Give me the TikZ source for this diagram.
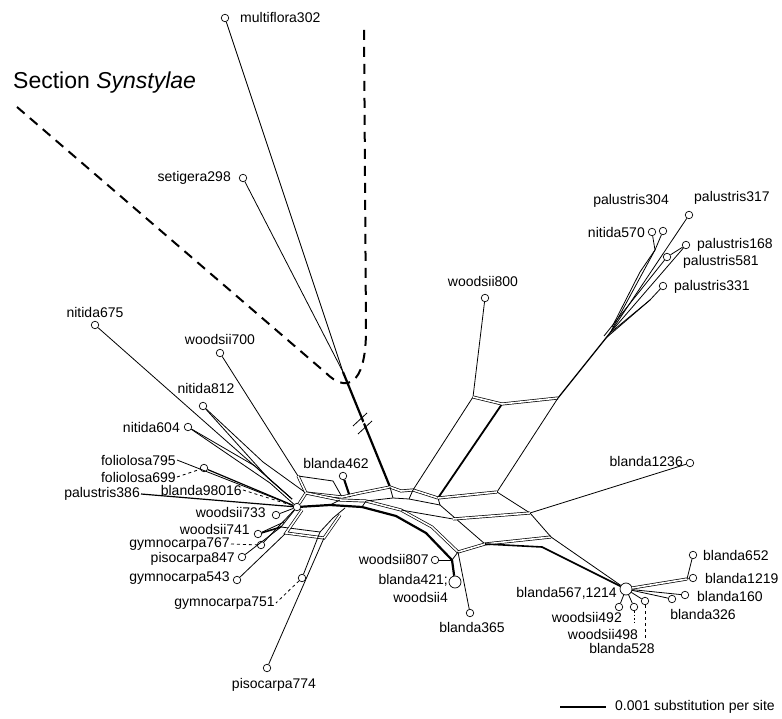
\documentclass[tikz,border=0pt]{standalone}
\usepackage{fontspec}
\setmainfont{Liberation Sans}
\begin{document}
\begin{tikzpicture}[x=1pt,y=-1pt,
    leaf/.style={circle, draw, fill=white, inner sep=0pt, minimum size=7.5pt, line width=0.7pt},
    bigleaf/.style={leaf, minimum size=12pt},
    lab/.style={font=\fontsize{14}{16}\selectfont, inner sep=1pt},
    edge/.style={line width=0.8pt},
    heavy/.style={line width=2.2pt},
    band/.style={double, double distance=1.6pt, line width=0.7pt},
    tie/.style={line width=0.8pt, dash pattern=on 3pt off 3pt},
    syn/.style={line width=2pt, dash pattern=on 10pt off 7pt}]
    \useasboundingbox (0,0) rectangle (782,719);

    % split network junctions
    \coordinate (t0) at (343,372);
    \coordinate (t1) at (390,487);
    \coordinate (b1) at (298,476);
    \coordinate (b2) at (333,481);
    \coordinate (b3) at (342,497);
    \coordinate (b4) at (306,493);
    \coordinate (m1) at (360,493);
    \coordinate (c1) at (401,491);
    \coordinate (c2) at (413,490);
    \coordinate (c3) at (438,498);
    \coordinate (d1) at (393,498);
    \coordinate (d2) at (409,499);
    \coordinate (d3) at (440,505);
    \coordinate (e1) at (330,505);
    \coordinate (e2) at (362,507);
    \coordinate (e3) at (396,516);
    \coordinate (e4) at (426,533);
    \coordinate (e5) at (452,560);
    \coordinate (f1) at (340,500);
    \coordinate (f2) at (366,501);
    \coordinate (f3) at (401,510);
    \coordinate (f4) at (432,527);
    \coordinate (f5) at (458,552);
    \coordinate (w1) at (473,397);
    \coordinate (w2) at (502,404);
    \coordinate (w3) at (558,398);
    \coordinate (g1) at (497,492);
    \coordinate (g2) at (530,513);
    \coordinate (g3) at (453,519);
    \coordinate (g4) at (485,544);
    \coordinate (g5) at (551,537);
    \coordinate (g6) at (542,547);
    \coordinate (p0) at (610,333);
    \coordinate (p1) at (655,250);
    \coordinate (p2) at (650,300);
    \coordinate (h1) at (281,527);
    \coordinate (h2) at (286,533);
    \coordinate (h3) at (320,532);
    \coordinate (h4) at (324,538);
    \coordinate (h5) at (333,518);
    \coordinate (h6) at (345,508);
    \coordinate (n1) at (268,478);
    \coordinate (n2) at (292,499);
    \coordinate (r1) at (687,579);

    % leaves
    \node[leaf] (multiflora302) at (225,18) {};
    \node[leaf] (setigera298) at (243,178) {};
    \node[leaf] (nitida675) at (95,325) {};
    \node[leaf] (woodsii700) at (220,353) {};
    \node[leaf] (nitida812) at (203,406) {};
    \node[leaf] (nitida604) at (188,427) {};
    \node[leaf] (foliolosa699) at (204,468) {};
    \node[leaf] (blanda98016) at (297,507) {};
    \node[leaf] (woodsii733) at (276,515) {};
    \node[leaf] (woodsii741) at (258,534) {};
    \node[leaf] (gymnocarpa767) at (261,545) {};
    \node[leaf] (pisocarpa847) at (242,557) {};
    \node[leaf] (gymnocarpa543) at (237,580) {};
    \node[leaf] (gymnocarpa751) at (302,578) {};
    \node[leaf] (pisocarpa774) at (267,668) {};
    \node[leaf] (blanda462) at (343,476) {};
    \node[leaf] (woodsii807) at (435,560) {};
    \node[bigleaf] (blanda421) at (455,582) {};
    \node[leaf] (blanda365) at (470,613) {};
    \node[leaf] (woodsii800) at (485,298) {};
    \node[leaf] (blanda1236) at (690,463) {};
    \node[leaf] (palustris317) at (689,215) {};
    \node[leaf] (palustris304) at (663,231) {};
    \node[leaf] (nitida570) at (652,232) {};
    \node[leaf] (palustris168) at (686,245) {};
    \node[leaf] (palustris581) at (667,257) {};
    \node[leaf] (palustris331) at (663,286) {};
    \node[bigleaf] (blanda567) at (626,589) {};
    \node[leaf] (woodsii492) at (619,607) {};
    \node[leaf] (woodsii498) at (634,607) {};
    \node[leaf] (blanda528) at (645,601) {};
    \node[leaf] (blanda326) at (672,599) {};
    \node[leaf] (blanda160) at (685,595) {};
    \node[leaf] (blanda1219) at (693,578) {};
    \node[leaf] (blanda652) at (693,555) {};

    % labels
    \node[lab, anchor=west] (l-multiflora302) at (239,18) {multiflora302};
    \node[lab, anchor=east] (l-setigera298) at (232,178) {setigera298};
    \node[lab] (l-nitida675) at (95,312) {nitida675};
    \node[lab] (l-woodsii700) at (220,339) {woodsii700};
    \node[lab] (l-nitida812) at (206,388) {nitida812};
    \node[lab, anchor=east] (l-nitida604) at (181,427) {nitida604};
    \node[lab, anchor=east] (l-foliolosa795) at (177,460) {foliolosa795};
    \node[lab, anchor=east] (l-foliolosa699) at (177,477) {foliolosa699};
    \node[lab, anchor=east] (l-palustris386) at (141,494) {palustris386};
    \node[lab, anchor=east] (l-blanda98016) at (243,490) {blanda98016};
    \node[lab, anchor=east] (l-woodsii733) at (267,512) {woodsii733};
    \node[lab, anchor=east] (l-woodsii741) at (251,529) {woodsii741};
    \node[lab, anchor=east] (l-gymnocarpa767) at (231,544) {gymnocarpa767};
    \node[lab, anchor=east] (l-pisocarpa847) at (236,559) {pisocarpa847};
    \node[lab, anchor=east] (l-gymnocarpa543) at (231,578) {gymnocarpa543};
    \node[lab, anchor=east] (l-gymnocarpa751) at (276,603) {gymnocarpa751};
    \node[lab] (l-pisocarpa774) at (274,685) {pisocarpa774};
    \node[lab] (l-blanda462) at (336,463) {blanda462};
    \node[lab, anchor=east] (l-woodsii807) at (430,559) {woodsii807};
    \node[lab, anchor=east] (l-blanda421) at (449,580) {blanda421;};
    \node[lab, anchor=east] (l-woodsii4) at (449,597) {woodsii4};
    \node[lab] (l-blanda365) at (472,627) {blanda365};
    \node[lab] (l-woodsii800) at (483,281) {woodsii800};
    \node[lab, anchor=east] (l-blanda1236) at (684,461) {blanda1236};
    \node[lab, anchor=west] (l-palustris317) at (693,198) {palustris317};
    \node[lab, anchor=east] (l-palustris304) at (670,201) {palustris304};
    \node[lab, anchor=east] (l-nitida570) at (646,232) {nitida570};
    \node[lab, anchor=west] (l-palustris168) at (696,245) {palustris168};
    \node[lab, anchor=west] (l-palustris581) at (682,262) {palustris581};
    \node[lab, anchor=west] (l-palustris331) at (673,287) {palustris331};
    \node[lab, anchor=west] (l-blanda652) at (702,555) {blanda652};
    \node[lab, anchor=west] (l-blanda1219) at (704,578) {blanda1219};
    \node[lab, anchor=west] (l-blanda160) at (696,596) {blanda160};
    \node[lab] (l-blanda326) at (703,614) {blanda326};
    \node[lab, anchor=east] (l-blanda567) at (618,593) {blanda567,1214};
    \node[lab, anchor=east] (l-woodsii492) at (623,617) {woodsii492};
    \node[lab] (l-woodsii498) at (603,634) {woodsii498};
    \node[lab] (l-blanda528) at (622,648) {blanda528};
    \node[font=\fontsize{23}{26}\selectfont, inner sep=0pt, anchor=west] (synstylae) at (13,83) {Section \textit{Synstylae}};
    \coordinate (s1) at (17,107);
    \coordinate (s2) at (326,373);
    \coordinate (s3) at (345,392);
    \coordinate (s4) at (366,388);
    \coordinate (s5) at (366,330);
    \coordinate (s6) at (364,25);
    \coordinate (sc0) at (560,707);
    \coordinate (sc1) at (606,707);
    \node[lab, anchor=west] (scalebar) at (614,707) {0.001 substitution per site};

    % outgroup and trunk
    \draw[syn] (s1) -- (s2) .. controls (s3) and (s4) .. (s5) -- (s6);
    \draw[edge] (multiflora302) -- (t0);
    \draw[edge] (setigera298) -- (t0);
    \draw[heavy] (t0) -- (t1);
    \draw[line width=1.4pt, white] (355,429) -- (370,418);
    \draw[edge] (353,426) -- (367,413);
    \draw[edge] (358,434) -- (372,421);
    \draw[heavy] (sc0) -- (sc1);

    % left fan
    \draw[edge] (nitida675) -- (n2);
    \draw[edge] (nitida812) -- (n1) -- (n2);
    \draw[edge] (nitida812) -- (263,462) -- (b4);
    \draw[edge] (nitida604) -- (270,483) -- (blanda98016);
    \draw[edge] (nitida604) -- (255,466) -- (n2);
    \draw[edge] (woodsii700) -- (b1);
    \draw[edge] (l-foliolosa795.east) -- (blanda98016);
    \draw[line width=1.2pt] (foliolosa699) -- (blanda98016);
    \draw[tie] (l-foliolosa699.east) -- (foliolosa699);
    \draw[line width=1.2pt] (l-palustris386.east) -- (blanda98016);
    \draw[tie] (l-blanda98016.east) -- (blanda98016);
    \draw[edge] (woodsii733) -- (blanda98016);
    \draw[edge] (gymnocarpa767) -- (blanda98016);
    \draw[tie] (l-gymnocarpa767.east) -- (gymnocarpa767);
    \draw[edge] (pisocarpa847) -- (h1);
    \draw[edge] (gymnocarpa543) -- (h2);
    \draw[heavy, line width=1.6pt] (woodsii741) -- (h1);
    \draw[edge] (woodsii741) -- (284,522);

    % left boxes
    \draw[edge] (b1) -- (b2) -- (b3);
    \draw[band] (b1) -- (b4) -- (b3);
    \draw[band] (blanda98016) -- (b4);
    \draw[heavy] (blanda462) -- (350,497);
    \draw[band] (b3) -- (m1) -- (t1);
    \draw[edge] (blanda98016) -- (h1) -- (h3) -- (h5) -- (h6);
    \draw[band] (302,510) -- (h2) -- (h4) -- (340,515);
    \draw[edge] (pisocarpa774) -- (h4);
    \draw[edge] (gymnocarpa751) -- (h3);
    \draw[tie] (gymnocarpa751) -- (l-gymnocarpa751.east);

    % central band
    \draw[heavy] (blanda98016) -- (e1) -- (e2) -- (e3) -- (e4) -- (e5);
    \draw[band] (b4) -- (f1) -- (f2) -- (f3) -- (f4) -- (f5);
    \draw[edge] (e1) -- (f1);
    \draw[edge] (e2) -- (f2);
    \draw[band] (t1) -- (c1) -- (c2) -- (c3);
    \draw[edge] (f2) -- (d1) -- (d2) -- (d3);
    \draw[edge] (t1) -- (d1);
    \draw[edge] (c2) -- (d2);
    \draw[edge] (c3) -- (d3);
    \draw[edge] (c2) -- (w1);
    \draw[edge] (woodsii800) -- (w1);
    \draw[line width=1.8pt] (c3) -- (w2);
    \draw[band] (w1) -- (w2) -- (w3);
    \draw[edge] (w3) -- (g1);
    \draw[line width=1.3pt] (w3) -- (p0);
    \draw[band] (c3) -- (g1);
    \draw[edge] (g1) -- (g2);
    \draw[edge] (g2) -- (blanda1236);
    \draw[edge] (d3) -- (g4);
    \draw[edge] (f3) -- (g3);
    \draw[band] (g3) -- (g2);
    \draw[band] (g4) -- (g5);
    \draw[edge] (g2) -- (g5);
    \draw[edge] (g5) -- (blanda567);
    \draw[band] (f5) -- (g4);
    \draw[heavy, line width=1.6pt] (g4) -- (g6) -- (blanda567);
    \draw[edge] (e5) -- (f5);
    \draw[edge] (woodsii807) -- (e5);
    \draw[heavy] (e5) -- (blanda421);
    \draw[edge] (f5) -- (blanda365);

    % palustris group
    \draw[edge] (p0) -- (p1) -- (nitida570);
    \draw[edge] (p1) -- (palustris304);
    \draw[edge] (p0) -- (palustris317);
    \draw[edge] (604,336) -- (palustris581) -- (palustris168);
    \draw[edge] (p0) -- (palustris168);
    \draw[edge] (p0) -- (p2) -- (palustris331);
    \draw[edge] (606,338) -- (p2);
    \draw[edge] (612,327) -- (640,272) -- (p1);

    % blanda567 group
    \draw[band] (blanda567) -- (r1);
    \draw[edge] (r1) -- (blanda1219);
    \draw[edge] (r1) -- (blanda652);
    \draw[edge] (blanda567) -- (blanda160);
    \draw[edge] (blanda567) -- (blanda326);
    \draw[edge] (blanda567) -- (woodsii492);
    \draw[edge] (blanda567) -- (woodsii498);
    \draw[edge] (blanda567) -- (blanda528);
    \draw[tie, dash pattern=on 1.5pt off 2pt] (woodsii498) -- (634,623);
    \draw[tie] (blanda528) -- (645,638);
\end{tikzpicture}
\end{document}
